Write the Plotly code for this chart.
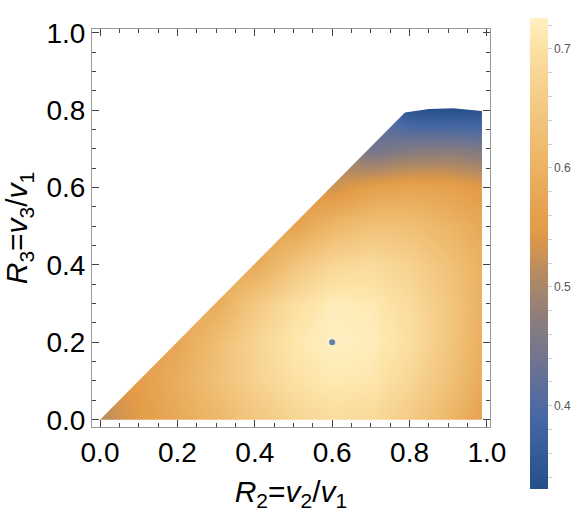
import plotly.graph_objects as go

# grid (rows: R3, cols: R2)
r2_vals = [0.0, 0.1, 0.2, 0.3, 0.4, 0.5, 0.6, 0.7, 0.8, 0.9, 1.0]
r3_vals = [0.0, 0.1, 0.2, 0.3, 0.4, 0.5, 0.6, 0.7, 0.8]
N = None
z_vals = [
    [0.51, 0.55, 0.58, 0.61, 0.645, 0.675, 0.69, 0.685, 0.655, 0.61, 0.555],
    [N, 0.555, 0.59, 0.63, 0.67, 0.70, 0.715, 0.71, 0.68, 0.635, 0.575],
    [N, N, 0.575, 0.625, 0.675, 0.71, 0.725, 0.72, 0.695, 0.645, 0.585],
    [N, N, N, 0.585, 0.65, 0.695, 0.72, 0.715, 0.69, 0.645, 0.59],
    [N, N, N, N, 0.58, 0.64, 0.68, 0.69, 0.67, 0.635, 0.59],
    [N, N, N, N, N, 0.565, 0.61, 0.635, 0.63, 0.605, 0.575],
    [N, N, N, N, N, N, 0.53, 0.56, 0.57, 0.565, 0.545],
    [N, N, N, N, N, N, N, 0.44, 0.46, 0.465, 0.455],
    [N, N, N, N, N, N, N, N, 0.34, 0.335, 0.34],
]

# outline of the region where the function is defined
edge_r2 = [0.0, 0.788, 0.85, 0.912, 0.95, 0.987, 0.987, 0.0]
edge_r3 = [0.0, 0.794, 0.803, 0.805, 0.802, 0.798, 0.0, 0.0]

point_r2 = [0.6]
point_r3 = [0.2]

zmin, zmax = 0.330, 0.726
cscale = [
    [0.0, 'rgb(36,79,138)'],
    [0.15, 'rgb(70,104,165)'],
    [0.27, 'rgb(110,116,145)'],
    [0.36, 'rgb(140,125,125)'],
    [0.45, 'rgb(178,138,100)'],
    [0.52, 'rgb(214,150,78)'],
    [0.56, 'rgb(228,156,72)'],
    [0.70, 'rgb(236,182,104)'],
    [0.85, 'rgb(246,208,140)'],
    [0.95, 'rgb(253,228,168)'],
    [1.0, 'rgb(255,241,196)'],
]

cb_ticks = [0.34, 0.36, 0.38, 0.40, 0.42, 0.44, 0.46, 0.48, 0.50, 0.52, 0.54,
            0.56, 0.58, 0.60, 0.62, 0.64, 0.66, 0.68, 0.70, 0.72]
cb_text = ['%.1f' % t if abs(t * 10 - round(t * 10)) < 1e-6 else '' for t in cb_ticks]

fig = go.Figure()
fig.add_trace(go.Heatmap(
    x=r2_vals, y=r3_vals, z=z_vals, zsmooth='best', connectgaps=True,
    zmin=zmin, zmax=zmax, colorscale=cscale,
    colorbar=dict(x=(530 - 92) / 398, xanchor='left', y=(427 - 253.5) / 398, yanchor='middle',
                  xpad=0, ypad=0,
                  thickness=18, lenmode='pixels', len=471, outlinewidth=0,
                  tickvals=cb_ticks, ticktext=cb_text, ticks='outside', ticklen=4,
                  tickcolor='#cccccc', tickfont=dict(size=12, color='#555555',
                                                      family='Liberation Sans'))))

# white mask outside the domain (outer box + domain outline in reverse)
mask_x = [-0.1, 1.1, 1.1, -0.1, -0.1] + edge_r2 + [-0.1]
mask_y = [-0.1, -0.1, 1.1, 1.1, -0.1] + edge_r3 + [-0.1]
fig.add_trace(go.Scatter(x=mask_x, y=mask_y, mode='lines', fill='toself',
                         fillcolor='white', line=dict(width=0), hoverinfo='skip',
                         showlegend=False))

fig.add_trace(go.Scatter(x=point_r2, y=point_r3, mode='markers',
                         marker=dict(color='#5e81b5', size=6), showlegend=False))

axis_common = dict(showline=True, linecolor='#999999', linewidth=1, mirror='ticks',
                   ticks='inside', ticklen=7, tickcolor='#444444', tickwidth=1,
                   tickvals=[0.0, 0.2, 0.4, 0.6, 0.8, 1.0], ticktext=['0.0', '0.2', '0.4', '0.6', '0.8', '1.0'],
                   minor=dict(ticks='inside', ticklen=4, tickcolor='#444444', dtick=0.05, tick0=0),
                   showgrid=False, zeroline=False, automargin=False,
                   tickfont=dict(size=28, color='black', family='Liberation Sans'))

fig.update_layout(
    width=581, height=525, autosize=False,
    margin=dict(l=92, r=91, t=29, b=98, autoexpand=False),
    paper_bgcolor='white', plot_bgcolor='white',
    font=dict(family='Liberation Sans'),
    xaxis=dict(range=[-0.0207, 1.0078],
               title=dict(text='<i>R</i><sub>2</sub>=<i>v</i><sub>2</sub>/<i>v</i><sub>1</sub>',
                          font=dict(size=30, color='black'), standoff=14),
               **axis_common),
    yaxis=dict(range=[-0.0189, 1.0096],
               title=dict(text='<i>R</i><sub>3</sub>=<i>v</i><sub>3</sub>/<i>v</i><sub>1</sub>',
                          font=dict(size=30, color='black'), standoff=9),
               **axis_common),
)

fig.write_html("out.html", config={'responsive': False, 'displayModeBar': False},
               post_script="document.body.style.margin='0';")
